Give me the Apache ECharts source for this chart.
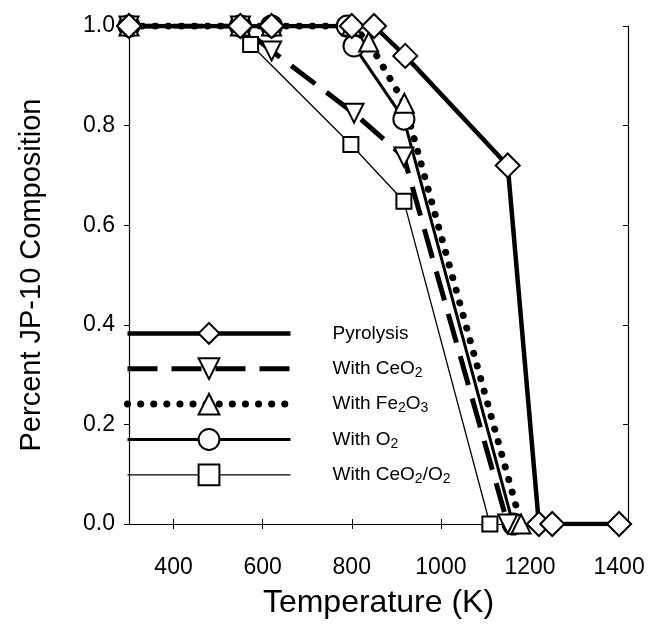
<!DOCTYPE html>
<html>
<head>
<meta charset="utf-8">
<script src="https://cdn.jsdelivr.net/npm/echarts@6/dist/echarts.min.js"></script>
<style>
  html, body { margin: 0; padding: 0; background: #fff; }
  #chart { width: 652px; height: 639px; }
</style>
</head>
<body>
<div id="chart"></div>
<script>
// data
var xTicks = [400, 600, 800, 1000, 1200, 1400];
var seriesNames = ["Pyrolysis", "With CeO2", "With Fe2O3", "With O2", "With CeO2/O2"];
var legendLabels = ["Pyrolysis", "With CeO{s|2}", "With Fe{s|2}O{s|3}", "With O{s|2}", "With CeO{s|2}/O{s|2}"];

var pyroT = [300, 550, 620, 800, 850, 920, 1150, 1220, 1250, 1400];
var pyroC = [1.0, 1.0, 1.0, 1.0, 1.0, 0.94, 0.72, 0.0, 0.0, 0.0];

var ceo2T = [300, 550, 620, 805, 917, 1150];
var ceo2C = [1.0, 1.0, 0.95, 0.825, 0.737, 0.0];

var fe2o3T = [300, 550, 620, 800, 838, 918, 1180];
var fe2o3C = [1.0, 1.0, 1.0, 1.0, 0.968, 0.845, 0.0];

var o2T = [300, 550, 620, 790, 805, 917, 1162];
var o2C = [1.0, 1.0, 1.0, 1.0, 0.96, 0.813, 0.0];

var ceo2o2T = [300, 550, 573, 798, 917, 1110];
var ceo2o2C = [1.0, 1.0, 0.963, 0.762, 0.648, 0.0];

function pairs(t, c) {
  return t.map(function (v, i) { return [v, c[i]]; });
}

var myChart = echarts.init(document.getElementById("chart"));

var font = "Liberation Sans, Arial, sans-serif";

// line styles, shared by the series and their legend entries
var styles = [
  { color: "#000", width: 4.5 },
  { color: "#000", width: 5, type: [30, 14] },
  { color: "#000", width: 7, type: [0.1, 13], cap: "round" },
  { color: "#000", width: 3 },
  { color: "#000", width: 1.3 }
];

function lineSeries(i, data, symbol, size, rotate) {
  return {
    name: seriesNames[i],
    type: "line",
    data: data,
    symbol: symbol,
    symbolSize: size,
    symbolRotate: rotate || 0,
    showAllSymbol: true,
    animation: false,
    lineStyle: styles[i],
    itemStyle: { color: "#fff", borderColor: "#000", borderWidth: 2 }
  };
}

var option = {
  backgroundColor: "#fff",
  grid: { left: 129, right: 24, top: 26, bottom: 115 },
  legend: {
    orient: "vertical",
    left: 124,
    top: 322,
    padding: 0,
    itemWidth: 163,
    itemHeight: 26,
    itemGap: 12.5,
    data: seriesNames.map(function (n, i) {
      return { name: n, lineStyle: styles[i] };
    }),
    formatter: function (name) {
      return legendLabels[seriesNames.indexOf(name)];
    },
    textStyle: {
      fontFamily: font,
      fontSize: 19,
      color: "#000",
      padding: [0, 0, 0, 37],
      rich: {
        s: { fontFamily: font, fontSize: 14, color: "#000", verticalAlign: "bottom", padding: [9, 0, 0, 0] }
      }
    }
  },
  xAxis: [
    {
      type: "value",
      min: 300,
      max: 1420,
      name: "Temperature (K)",
      nameLocation: "middle",
      nameGap: 63,
      nameTextStyle: { fontFamily: font, fontSize: 32, color: "#000" },
      axisLine: { lineStyle: { color: "#000", width: 1.2 } },
      axisTick: { show: true, customValues: xTicks, length: 5, lineStyle: { color: "#000" } },
      axisLabel: {
        customValues: xTicks,
        margin: 32,
        fontFamily: font,
        fontSize: 23,
        color: "#000",
        formatter: function (v) { return String(v); }
      },
      splitLine: { show: false }
    },
    {
      type: "value",
      position: "top",
      min: 300,
      max: 1420,
      axisLine: { show: true, lineStyle: { color: "#000", width: 1.2 } },
      axisTick: { show: true, customValues: xTicks, length: 5, lineStyle: { color: "#000" } },
      axisLabel: { show: false },
      splitLine: { show: false }
    }
  ],
  yAxis: [
    {
      type: "value",
      min: 0,
      max: 1,
      interval: 0.2,
      name: "Percent JP-10 Composition",
      nameLocation: "middle",
      nameGap: 83,
      nameTextStyle: { fontFamily: font, fontSize: 29, color: "#000" },
      axisLine: { show: true, lineStyle: { color: "#000", width: 1.2 } },
      axisTick: { show: true, length: 5, lineStyle: { color: "#000" } },
      axisLabel: {
        margin: 14,
        fontFamily: font,
        fontSize: 23,
        color: "#000",
        formatter: function (v) { return v.toFixed(1); }
      },
      splitLine: { show: false }
    },
    {
      type: "value",
      position: "right",
      min: 0,
      max: 1,
      interval: 0.2,
      axisLine: { show: true, lineStyle: { color: "#000", width: 1.2 } },
      axisTick: { show: true, inside: true, length: 5, lineStyle: { color: "#000" } },
      axisLabel: { show: false },
      splitLine: { show: false }
    }
  ],
  series: [
    lineSeries(4, pairs(ceo2o2T, ceo2o2C), "rect", 15),
    lineSeries(3, pairs(o2T, o2C), "circle", 21),
    lineSeries(2, pairs(fe2o3T, fe2o3C), "triangle", 19),
    lineSeries(1, pairs(ceo2T, ceo2C), "triangle", 19, 180),
    lineSeries(0, pairs(pyroT, pyroC), "diamond", 24)
  ]
};

myChart.setOption(option);
window.onresize = myChart.resize;
</script>
</body>
</html>
